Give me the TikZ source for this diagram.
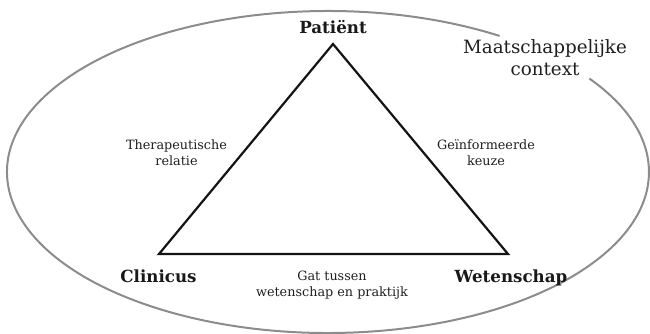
\documentclass[tikz,border=0pt]{standalone}
\usepackage{fontspec}
\setmainfont{DejaVu Serif}
\begin{document}
\begin{tikzpicture}[x=1pt,y=1pt,
  vertexlabel/.style={inner sep=0pt,anchor=base,text=black!90,font=\bfseries\fontsize{16.7}{20}\selectfont},
  edgelabel/.style={inner sep=0pt,anchor=base,align=center,text=black!88,font=\fontsize{12.8}{16}\selectfont},
  contextlabel/.style={inner sep=0pt,anchor=base,align=center,text=black!88,font=\fontsize{18.3}{22}\selectfont},
  sidestyle/.style={draw=black!92,line width=2.2pt,line join=miter},
  ellipsestyle/.style={draw=black!45,line width=2pt}]
\useasboundingbox (0,0) rectangle (650,333);
% context ellipse (open near its label)
\draw[ellipsestyle] (328,161) ++(57.7:321 and 161)
  arc[start angle=57.7,end angle=395.5,x radius=321,y radius=161];
% triangle corners
\coordinate (P) at (333,289);
\coordinate (C) at (159,79);
\coordinate (W) at (508,79);
\draw[sidestyle] (P) -- (W) -- (C) -- cycle;
% labels
\node[vertexlabel] (pat) at (333,300) {Patiënt};
\node[vertexlabel] (cli) at (158.5,51) {Clinicus};
\node[vertexlabel] (wet) at (511,51) {Wetenschap};
\node[edgelabel] (ther) at (176.5,168) {Therapeutische\\relatie};
\node[edgelabel] (gein) at (486,168) {Geïnformeerde\\keuze};
\node[edgelabel] (gat) at (332,37) {Gat tussen\\wetenschap en praktijk};
\node[contextlabel] (ctx) at (545,258) {Maatschappelijke\\context};
\end{tikzpicture}
\end{document}
